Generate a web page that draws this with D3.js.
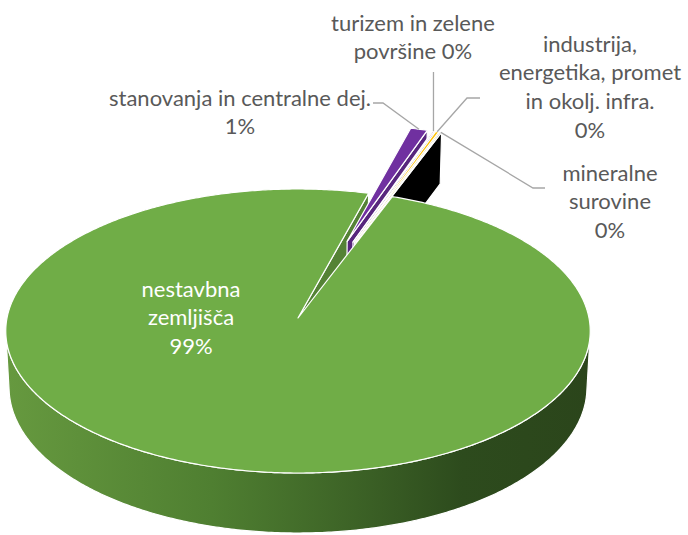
<!DOCTYPE html>
<html><head><meta charset="utf-8">
<script src="https://cdn.jsdelivr.net/npm/d3@7"></script>
<style>
html,body{margin:0;padding:0;background:#fff;}
svg{display:block;font-family:Lato,"Open Sans",sans-serif;}
</style>
</head><body>
<svg id="chart" width="688" height="535"></svg>
<script>
// ---- data ----
const categories = [
  "nestavbna zemljišča",
  "stanovanja in centralne dej.",
  "turizem in zelene površine",
  "industrija, energetika, promet in okolj. infra.",
  "mineralne surovine"
];
const values = [98.53, 1.07, 0.10, 0.20, 0.10];
const colors = ["#70AD47", "#7030A0", "#7B3DAA", "#FFC000", "#000000"];
const explode = [0, 0.6, 0.6, 0.6, 0.6];
// label lines ({p} = percentage)
const labelLines = [
  ["nestavbna", "zemljišča", "{p}"],
  ["stanovanja in centralne dej.", "{p}"],
  ["turizem in zelene", "površine {p}"],
  ["industrija,", "energetika, promet", "in okolj. infra.", "{p}"],
  ["mineralne", "surovine", "{p}"]
];

// ---- layout ----
const svg = d3.select("#chart");
const P = {cx: 298, cy: 318, F: 2782, D: 9.56, s: 0.4839, c: 0.875, h: 0.2236};
const firstAngle = 20.6 * Math.PI / 180;
const labelPos = [
  {x: 191, y: 288, fill: "#ffffff"},
  {x: 240, y: 97, fill: "#595959"},
  {x: 413, y: 22, fill: "#595959"},
  {x: 590, y: 43, fill: "#595959"},
  {x: 610, y: 172, fill: "#595959"}
];
const lineH = 28.8;
const fontSize = 22;

function proj(u, v, z) {
  const w = P.D + v * P.c - z * P.s;
  return [P.cx + P.F * u / w, P.cy - P.F * (v * P.s + z * P.c) / w];
}
function rim(t, ox, oy, z) { return proj(ox + Math.sin(t), oy + Math.cos(t), z); }

const total = d3.sum(values);
const pct = v => Math.round(v / total * 100) + "%";
const arcs = d3.pie().sort(null).value(d => d)
  .startAngle(firstAngle).endAngle(firstAngle + 2 * Math.PI)(values);

const defs = svg.append("defs");
const grad = defs.append("linearGradient").attr("id", "wallG")
  .attr("gradientUnits", "userSpaceOnUse").attr("x1", 8).attr("x2", 590).attr("y1", 0).attr("y2", 0);
[[0, "#66993f"], [0.35, "#4f7f31"], [0.6, "#3c6226"], [0.78, "#2d4b1d"], [1, "#2b451b"]]
  .forEach(([o, c]) => grad.append("stop").attr("offset", o).attr("stop-color", c));

const line = d3.line();
const slices = arcs.map((a, i) => {
  const mid = (a.startAngle + a.endAngle) / 2;
  return {i, a0: a.startAngle, a1: a.endAngle, mid,
    ox: explode[i] * Math.sin(mid), oy: explode[i] * Math.cos(mid)};
});
const order = slices.slice().sort((p, q) => Math.cos(q.mid) - Math.cos(p.mid)); // back first
const g = svg.append("g");
const strokeW = 1.2;

function sideParts(sl) {
  const {i, a0, a1, ox, oy} = sl;
  const col = colors[i];
  const side = d3.color(col).darker(0.7).formatHex();
  const n = Math.max(4, Math.ceil((a1 - a0) / 0.01));
  const ts = d3.range(n + 1).map(k => a0 + (a1 - a0) * k / n);
  const vis = t => (-ox * Math.sin(t) - oy * Math.cos(t) - 1 - P.D * P.c * Math.cos(t)) > 0;
  let run = [];
  const runs = [];
  ts.forEach(t => { if (vis(t)) run.push(t); else { if (run.length > 1) runs.push(run); run = []; } });
  if (run.length > 1) runs.push(run);
  runs.forEach(r => {
    const pts = r.map(t => rim(t, ox, oy, 0)).concat(r.slice().reverse().map(t => rim(t, ox, oy, -P.h)));
    g.append("path").attr("d", line(pts) + "Z")
      .attr("fill", i === 0 ? "url(#wallG)" : side)
      .attr("stroke", "#fff").attr("stroke-width", strokeW).attr("stroke-linejoin", "round");
  });
  [[a0, -1], [a1, 1]].forEach(([t, sgn]) => {
    const nu = sgn * Math.cos(t), nv = -sgn * Math.sin(t);
    const dot = nu * (-ox) + nv * (-P.D * P.c - oy);
    if (dot > 0) {
      const pts = [proj(ox, oy, 0), rim(t, ox, oy, 0), rim(t, ox, oy, -P.h), proj(ox, oy, -P.h)];
      g.append("path").attr("d", line(pts) + "Z")
        .attr("fill", i === 0 ? "#548235" : side)
        .attr("stroke", "#fff").attr("stroke-width", strokeW).attr("stroke-linejoin", "round");
    }
  });
}
function topPart(sl) {
  const {i, a0, a1, ox, oy} = sl;
  const n = Math.max(4, Math.ceil((a1 - a0) / 0.01));
  const ts = d3.range(n + 1).map(k => a0 + (a1 - a0) * k / n);
  const top = [proj(ox, oy, 0)].concat(ts.map(t => rim(t, ox, oy, 0)));
  g.append("path").attr("d", line(top) + "Z")
    .attr("fill", colors[i]).attr("stroke", "#fff").attr("stroke-width", strokeW).attr("stroke-linejoin", "round");
}
// main (unexploded) slice sides first, then exploded slices, then main top
const mainSl = order.filter(s => explode[s.i] === 0);
const expl = order.filter(s => explode[s.i] !== 0);
mainSl.forEach(sideParts);
expl.forEach(s => { sideParts(s); topPart(s); });
mainSl.forEach(topPart);

// leader lines for small slices
const elbows = {
  1: a => [[383, 103], [373, 103]],
  2: a => [[a[0], 72]],
  3: a => [[467, 98], [480, 98]],
  4: a => [[533, 188], [545, 188]]
};
slices.forEach(sl => {
  if (!elbows[sl.i]) return;
  const anchor = rim(sl.mid, sl.ox, sl.oy, 0);
  const pts = [anchor].concat(elbows[sl.i](anchor));
  svg.append("path").attr("d", line(pts)).attr("fill", "none")
    .attr("stroke", "#A6A6A6").attr("stroke-width", 1.3);
});

// labels
slices.forEach(sl => {
  const lp = labelPos[sl.i];
  const t = svg.append("text").attr("text-anchor", "middle")
    .attr("font-size", fontSize).attr("fill", lp.fill);
  labelLines[sl.i].forEach((ln, k) => {
    t.append("tspan").attr("x", lp.x).attr("y", lp.y + k * lineH)
      .attr("dominant-baseline", "central")
      .text(ln.replace("{p}", pct(values[sl.i])));
  });
});
</script>
</body></html>
